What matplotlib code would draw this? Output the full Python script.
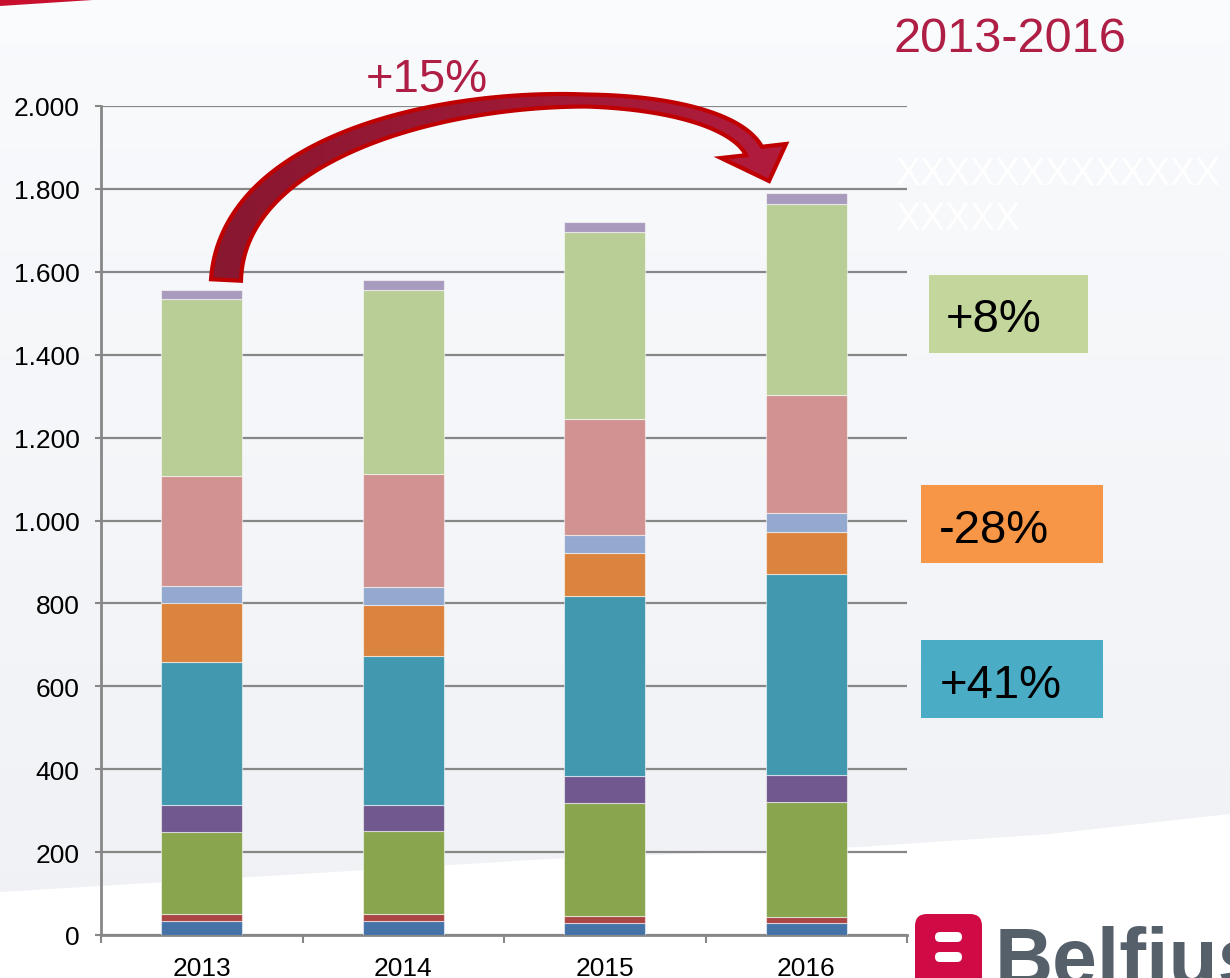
import numpy as np
import matplotlib
matplotlib.use('Agg')
import matplotlib.pyplot as plt
from matplotlib.patches import Polygon, Rectangle, FancyBboxPatch
from matplotlib.ticker import FixedLocator

plt.rcParams['font.family'] = ['Liberation Sans', 'DejaVu Sans']

# ---------------- data ----------------
years = ['2013', '2014', '2015', '2016']
seg_blue = [34, 34, 30, 29]
seg_red = [17, 17, 17, 15]
seg_green = [198, 199, 271, 276]
seg_purple = [65, 63, 65, 65]
seg_teal = [345, 361, 436, 485]
seg_orange = [142, 123, 103, 102]
seg_lightblue = [42, 42, 44, 45]
seg_pink = [264, 273, 280, 286]
seg_lightgreen = [427, 444, 449, 460]
seg_lavender = [22, 24, 26, 27]

series = [seg_blue, seg_red, seg_green, seg_purple, seg_teal,
          seg_orange, seg_lightblue, seg_pink, seg_lightgreen, seg_lavender]
colors = ['#4572A7', '#AA4643', '#89A54E', '#71588F', '#4198AF',
          '#DB843D', '#93A9CF', '#D19392', '#B9CD96', '#A99BBD']

y_ticks = [0, 200, 400, 600, 800, 1000, 1200, 1400, 1600, 1800, 2000]
y_tick_labels = [f"{v:,}".replace(',', '.') for v in y_ticks]

total_label = '+15%'
period_label = '2013-2016'
box_labels = ['+8%', '-28%', '+41%']
box_colors = ['#C3D69B', '#F79646', '#4BACC6']

W, H = 1230, 979
fig = plt.figure(figsize=(W / 100, H / 100), dpi=100)

# ---------------- background ----------------
ax_bg = fig.add_axes([0, 0, 1, 1], zorder=-5)
ax_bg.set_xlim(0, W)
ax_bg.set_ylim(H, 0)
ax_bg.axis('off')
grad = np.linspace(0, 1, 256).reshape(-1, 1)
c_top = np.array([0.978, 0.982, 0.990])
c_bot = np.array([0.940, 0.945, 0.960])
img = c_top[None, None, :] * (1 - grad[..., None]) + c_bot[None, None, :] * grad[..., None]
ax_bg.imshow(img, extent=[0, W, H, 0], aspect='auto')
ax_bg.add_patch(Rectangle((0, 0), W, 40, color='#FAFBFD', lw=0))
swoosh = [(0, 893), (300, 875), (550, 860), (860, 848), (1050, 835), (1230, 815), (1230, H), (0, H)]
ax_bg.add_patch(Polygon(swoosh, closed=True, color='white', lw=0))
ax_bg.add_patch(Polygon([(0, 0), (108, 0), (0, 7)], closed=True, color='#C8102E', lw=0))

# ---------------- main chart ----------------
ax = fig.add_axes([101 / W, 1 - 936 / H, (907 - 101) / W, (936 - 107) / H], zorder=1)
ax.patch.set_alpha(0)
x = np.arange(len(years))
bottom = np.zeros(len(years))
for vals, col in zip(series, colors):
    ax.bar(x, vals, width=0.4, bottom=bottom, color=col,
           edgecolor=(1, 1, 1, 0.55), linewidth=0.8, zorder=3)
    bottom += np.array(vals)

ax.set_xlim(-0.5, 3.5)
ax.set_ylim(0, 2000)
ax.set_yticks(y_ticks)
ax.set_yticklabels(y_tick_labels, fontsize=19)
ax.set_xticks(x)
ax.set_xticklabels(years, fontsize=19)
ax.xaxis.set_minor_locator(FixedLocator([-0.5, 0.5, 1.5, 2.5, 3.5]))
ax.tick_params(axis='x', which='major', length=0, pad=15)
ax.tick_params(axis='x', which='minor', length=6, width=1.5, color='#878787', direction='out')
ax.tick_params(axis='y', which='major', length=4, width=1.5, color='#878787', pad=11.5)
ax.yaxis.grid(True, color='#878787', linewidth=1.6, zorder=0)
ax.set_axisbelow(True)
for s in ['top', 'right']:
    ax.spines[s].set_visible(False)
for s in ['left', 'bottom']:
    ax.spines[s].set_color('#878787')
    ax.spines[s].set_linewidth(2)

# ---------------- overlay (image pixel coords) ----------------
ov = fig.add_axes([0, 0, 1, 1], zorder=2)
ov.set_xlim(0, W)
ov.set_ylim(H, 0)
ov.axis('off')
ov.patch.set_alpha(0)

# curved arrow
S = np.array([226.0, 281.0])
P1 = np.array([236.0, 81.0])
P2 = np.array([707.0, 64.0])
E = np.array([754.0, 152.0])
t = np.linspace(0, 1, 120)[:, None]
C = (1 - t) ** 3 * S + 3 * (1 - t) ** 2 * t * P1 + 3 * (1 - t) * t ** 2 * P2 + t ** 3 * E
D = 3 * (1 - t) ** 2 * (P1 - S) + 6 * (1 - t) * t * (P2 - P1) + 3 * t ** 2 * (E - P2)
D = D / np.linalg.norm(D, axis=1, keepdims=True)
N = np.column_stack([-D[:, 1], D[:, 0]])
wv = np.interp(t[:, 0], [0, 0.3, 0.65, 0.85, 1.0], [30, 22, 12, 15, 18])
inner = C + N * wv[:, None] / 2
outer = C - N * wv[:, None] / 2
head = np.array([[786, 145], [769, 182], [721, 159]])
poly = np.vstack([outer, head, inner[::-1]])
arrow = Polygon(poly, closed=True, facecolor='none', edgecolor='#C00000', lw=3, zorder=5)
ov.add_patch(arrow)
gx = np.linspace(0, 1, 256).reshape(1, -1)
ca = np.array([0.53, 0.09, 0.19])
cb = np.array([0.70, 0.11, 0.24])
gimg = ca[None, None, :] * (1 - gx[..., None]) + cb[None, None, :] * gx[..., None]
im = ov.imshow(gimg, extent=[200, 800, 300, 80], aspect='auto', zorder=4)
clip = Polygon(poly, closed=True, transform=ov.transData)
im.set_clip_path(clip)
ov.set_xlim(0, W)
ov.set_ylim(H, 0)

txt_red = '#AF1E45'
ov.text(366, 92, total_label, fontsize=34, color=txt_red, ha='left', va='baseline')
ov.text(893, 52, period_label, fontsize=35, color=txt_red, ha='left', va='baseline')

# white (hidden) text
ov.text(895, 185, 'XXXXXXXXXXXXX', fontsize=27, color='white', ha='left', va='baseline')
ov.text(895, 230, 'XXXXX', fontsize=27, color='white', ha='left', va='baseline')

# percentage boxes
boxes = [(929, 276, 159, 78, 946, 332), (921, 486, 182, 78, 939, 543), (921, 641, 182, 78, 940, 698)]
for (bx, by, bw, bh, tx, ty), lab, bc in zip(boxes, box_labels, box_colors):
    ov.add_patch(Rectangle((bx, by), bw, bh, facecolor=bc, edgecolor='none'))
    ov.text(tx, ty, lab, fontsize=34, color='black', ha='left', va='baseline')

# logo
ov.add_patch(FancyBboxPatch((921, 921), 55, 70, boxstyle='round,pad=6,rounding_size=12',
                            facecolor='#CF0A45', edgecolor='none'))
for yy in (933, 953):
    ov.add_patch(FancyBboxPatch((935, yy), 27, 10, boxstyle='round,pad=0,rounding_size=5',
                                facecolor='white', edgecolor='none'))
ov.text(995, 985, 'Belfius', fontsize=58, fontweight='bold', color='#55606B',
        ha='left', va='baseline')

fig.savefig('out.png', dpi=100)
